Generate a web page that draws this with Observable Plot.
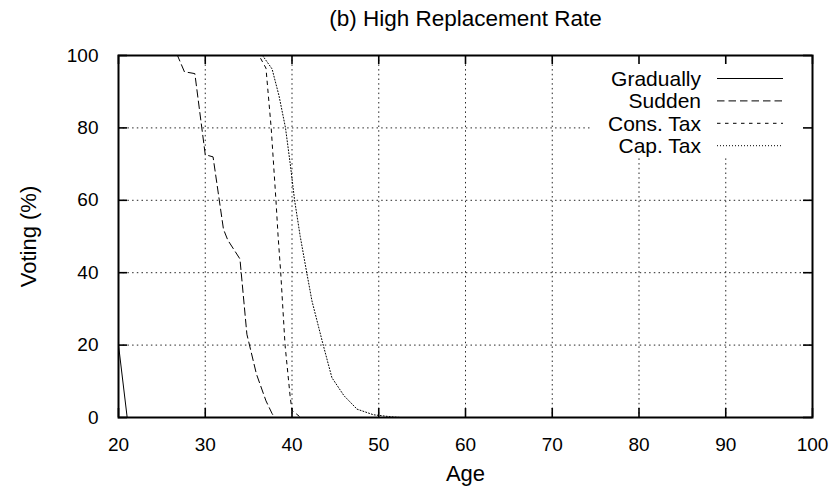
<!DOCTYPE html>
<html><head><meta charset="utf-8">
<script src="https://cdn.jsdelivr.net/npm/d3@7"></script>
<script src="https://cdn.jsdelivr.net/npm/@observablehq/plot@0.6"></script>
<style>html,body{margin:0;padding:0;background:#fff} svg{display:block}</style>
</head><body><div id="chart"></div>
<script>
const title = "(b) High Replacement Rate";
const xLabel = "Age";
const yLabel = "Voting (%)";
const xTicks = [20, 30, 40, 50, 60, 70, 80, 90, 100];
const yTicks = [0, 20, 40, 60, 80, 100];
const seriesNames = ["Gradually", "Sudden", "Cons. Tax", "Cap. Tax"];

const graduallyAge = [20, 21, 100];
const graduallyVal = [20, 0, 0];

const suddenAge = [20, 26.8, 27.6, 28.8, 30.0, 30.9, 32.1, 32.6, 34.0, 34.8, 35.9, 37.0, 37.7, 38.0, 100];
const suddenVal = [100, 100, 95.5, 95, 72.6, 72, 52, 49, 43.8, 23, 12, 4.6, 1.1, 0, 0];

const consAge = [20, 36.2, 37.0, 37.2, 37.6, 38.15, 38.4, 38.7, 39.2, 39.8, 40.0, 40.5, 41, 100];
const consVal = [100, 100, 96.5, 91, 80, 60, 50, 40, 20, 5.5, 2, 1, 0, 0];

const capAge = [20, 36.6, 37.7, 38.5, 39.25, 39.8, 40.3, 40.95, 41.7, 42.3, 43.6, 44.6, 46.0, 47.5, 49.4, 51.4, 52.5, 100];
const capVal = [100, 100, 96.3, 88.9, 80, 70, 60, 50, 40, 32.2, 20, 11, 6, 2.3, 0.75, 0.2, 0, 0];

const seriesAges = [graduallyAge, suddenAge, consAge, capAge];
const seriesVals = [graduallyVal, suddenVal, consVal, capVal];
const dashes = [null, "7.5,4", "3.5,4.5", "1,2"];

const FONT = "'Liberation Sans', Arial, Helvetica, sans-serif";
const W = 838, H = 493;
const M = {top: 55, right: 26, bottom: 76, left: 118};
const frameH = H - M.top - M.bottom;
const frameW = W - M.left - M.right;
const TICK = 9;
const gridDash = "1.5,3.2";

const rows = seriesNames.map((name, i) => seriesAges[i].map((a, j) => ({series: name, age: a, val: seriesVals[i][j]})));

function legend(index, scales, values, dims) {
  const g = d3.create("svg:g");
  const right = dims.width - dims.marginRight;
  const top = dims.marginTop;
  g.append("rect").attr("x", right - 222).attr("y", top + 1).attr("width", 221).attr("height", 101).attr("fill", "white");
  seriesNames.forEach((name, i) => {
    const y = top + 23.5 + i * 22.4;
    g.append("text").attr("x", right - 111).attr("y", y).attr("text-anchor", "end").attr("dy", "0.35em")
      .attr("font-size", 21).attr("font-family", FONT).attr("fill", "black").text(name);
    const ln = g.append("line").attr("x1", right - 95).attr("x2", right - 29).attr("y1", y).attr("y2", y)
      .attr("stroke", "black").attr("stroke-width", 1);
    if (dashes[i]) ln.attr("stroke-dasharray", dashes[i]);
  });
  return g.node();
}

const plot = Plot.plot({
  width: W, height: H,
  marginTop: M.top, marginRight: M.right, marginBottom: M.bottom, marginLeft: M.left,
  style: {fontFamily: FONT, background: "white", color: "black"},
  x: {domain: [20, 100]},
  y: {domain: [0, 100]},
  marks: [
    Plot.ruleX(xTicks.filter(d => d > 20 && d < 100), {x: d => d, stroke: "black", strokeWidth: 1, strokeDasharray: gridDash, strokeOpacity: 0.85}),
    Plot.ruleY(yTicks.filter(d => d > 0 && d < 100), {y: d => d, stroke: "black", strokeWidth: 1, strokeDasharray: gridDash, strokeOpacity: 0.85}),
    ...rows.map((r, i) => Plot.line(r, {x: "age", y: "val", stroke: "black", strokeWidth: 1, strokeDasharray: dashes[i] || undefined})),
    legend,
    Plot.ruleX(xTicks, {x: d => d, stroke: "black", strokeWidth: 1.6, insetTop: frameH - TICK}),
    Plot.ruleX(xTicks, {x: d => d, stroke: "black", strokeWidth: 1.6, insetBottom: frameH - TICK}),
    Plot.ruleY(yTicks, {y: d => d, stroke: "black", strokeWidth: 1.6, insetRight: frameW - TICK}),
    Plot.ruleY(yTicks, {y: d => d, stroke: "black", strokeWidth: 1.6, insetLeft: frameW - TICK}),
    Plot.frame({stroke: "black", strokeWidth: 2}),
    Plot.axisX(xTicks, {tickSize: 0, tickPadding: 20, fontSize: 19, label: null, tickFormat: d => d}),
    Plot.axisY(yTicks, {tickSize: 0, tickPadding: 20, fontSize: 19, label: null, tickFormat: d => d}),
    Plot.text([title], {text: d => d, frameAnchor: "top", dy: -37, fontSize: 22.5, lineAnchor: "middle", textAnchor: "middle"}),
    Plot.text([xLabel], {text: d => d, frameAnchor: "bottom", dy: 56, fontSize: 22, lineAnchor: "middle", textAnchor: "middle"}),
    Plot.text([yLabel], {text: d => d, frameAnchor: "left", dx: -90, rotate: -90, fontSize: 22, lineAnchor: "middle", textAnchor: "middle"})
  ]
});
document.getElementById("chart").appendChild(plot);
</script>
</body></html>
